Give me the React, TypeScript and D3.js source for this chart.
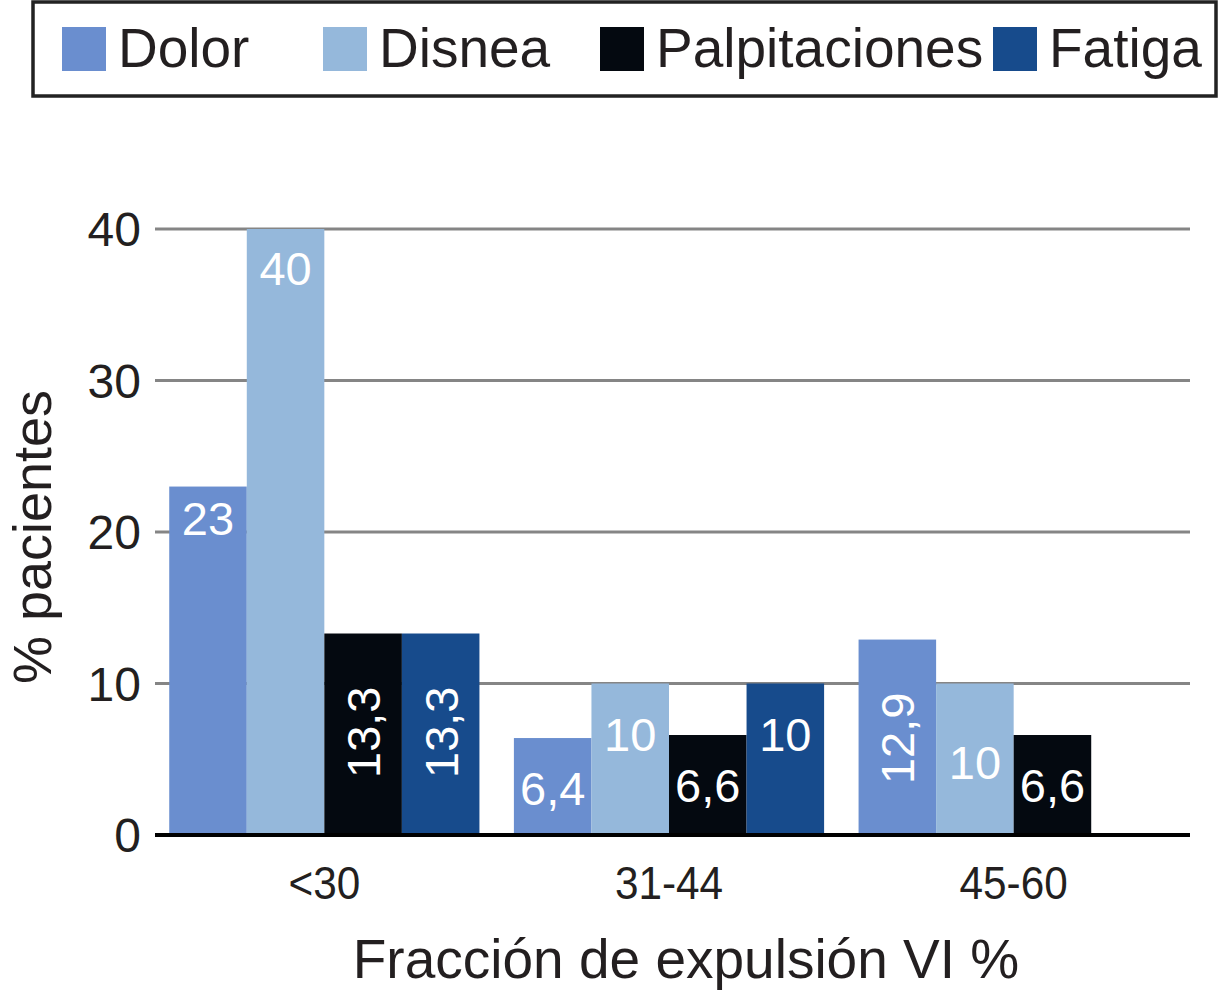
import React from "react";
import * as d3 from "d3";

const categories = ["<30", "31-44", "45-60"];
const series = ["Dolor", "Disnea", "Palpitaciones", "Fatiga"];
const dolor = [23, 6.4, 12.9];
const disnea = [40, 10, 10];
const palpitaciones = [13.3, 6.6, 6.6];
const fatiga: (number | null)[] = [13.3, 10, null];
const yTicks = [0, 10, 20, 30, 40];
const colors = ["#6a8ecf", "#95b8db", "#040910", "#174b8c"];

const W = 1224;
const H = 990;
const FONT = "'Liberation Sans', Arial, Helvetica, sans-serif";

// label layout: rotated labels for values that don't fit horizontally
const rotatedLabel = (v: number) => v >= 12.5 && v < 20;
// per-label vertical nudge (px) for matching the original typesetting
const labelNudge: Record<string, number> = { "45-60|Disnea": 28 };

const fmt = (v: number) => String(v).replace(".", ",");

export default function App() {
  const values = [dolor, disnea, palpitaciones, fatiga];
  const x0 = d3.scaleBand<string>().domain(categories).range([152, 1186]).paddingInner(0.1).paddingOuter(0.05);
  const x1 = d3.scaleBand<string>().domain(series).range([0, x0.bandwidth()]).padding(0);
  const y = d3.scaleLinear().domain([0, 40]).range([835, 229]);

  const legendX = [62, 323, 600, 993];

  const bars: JSX.Element[] = [];
  const labels: JSX.Element[] = [];
  categories.forEach((c, ci) => {
    series.forEach((s, si) => {
      const v = values[si][ci];
      if (v == null) return;
      const bx = (x0(c) as number) + (x1(s) as number);
      const bw = x1.bandwidth();
      bars.push(
        <rect key={`b-${c}-${s}`} x={bx} y={y(v)} width={bw} height={y(0) - y(v)} fill={colors[si]} />
      );
      const cx = bx + bw / 2;
      const nudge = labelNudge[`${c}|${s}`] || 0;
      if (rotatedLabel(v)) {
        labels.push(
          <text key={`l-${c}-${s}`} transform={`translate(${cx + 17},${y(v) + 53}) rotate(-90)`} textAnchor="end"
            fill="#fff" fontSize={47} fontFamily={FONT}>{fmt(v)}</text>
        );
      } else {
        const base = v >= 20 ? y(v) + (v >= 35 ? 56 : 48) : y(v) + 67;
        labels.push(
          <text key={`l-${c}-${s}`} x={cx} y={base + nudge} textAnchor="middle" fill="#fff" fontSize={47}
            fontFamily={FONT}>{fmt(v)}</text>
        );
      }
    });
  });

  return (
    <svg width={W} height={H} style={{ display: "block", position: "absolute", left: 0, top: 0, background: "#fff" }}>
      <rect x={0} y={0} width={W} height={H} fill="#fff" />
      {/* Legend */}
      <rect x={33} y={2} width={1183} height={94} fill="#fff" stroke="#222" strokeWidth={3.5} />
      {series.map((s, i) => (
        <g key={`lg-${s}`}>
          <rect x={legendX[i]} y={27} width={44} height={44} fill={colors[i]} />
          <text x={legendX[i] + 56} y={67} fontSize={55} fontFamily={FONT} fill="#231f20">{s}</text>
        </g>
      ))}
      {/* Gridlines */}
      {yTicks.filter((t) => t > 0).map((t) => (
        <line key={`g-${t}`} x1={155} x2={1190} y1={y(t)} y2={y(t)} stroke="#858585" strokeWidth={3} />
      ))}
      {/* Y tick labels */}
      {yTicks.map((t) => (
        <text key={`yt-${t}`} x={141} y={y(t)} dy="0.36em" textAnchor="end" fontSize={48} fontFamily={FONT} fill="#231f20">{t}</text>
      ))}
      {bars}
      {labels}
      {/* Baseline axis */}
      <line x1={155} x2={1190} y1={y(0)} y2={y(0)} stroke="#000" strokeWidth={4} />
      {/* X tick labels */}
      {categories.map((c) => (
        <text key={`xt-${c}`} x={(x0(c) as number) + x0.bandwidth() / 2} y={899} textAnchor="middle" fontSize={47}
          fontFamily={FONT} fill="#231f20" transform={`translate(${((x0(c) as number) + x0.bandwidth() / 2) * 0.1},0) scale(0.9,1)`}>{c}</text>
      ))}
      {/* Axis titles */}
      <text x={686} y={978} textAnchor="middle" fontSize={55} fontFamily={FONT} fill="#231f20">Fracción de expulsión VI %</text>
      <text transform={`translate(51,537) rotate(-90)`} textAnchor="middle" fontSize={54} fontFamily={FONT} fill="#231f20">% pacientes</text>
    </svg>
  );
}
